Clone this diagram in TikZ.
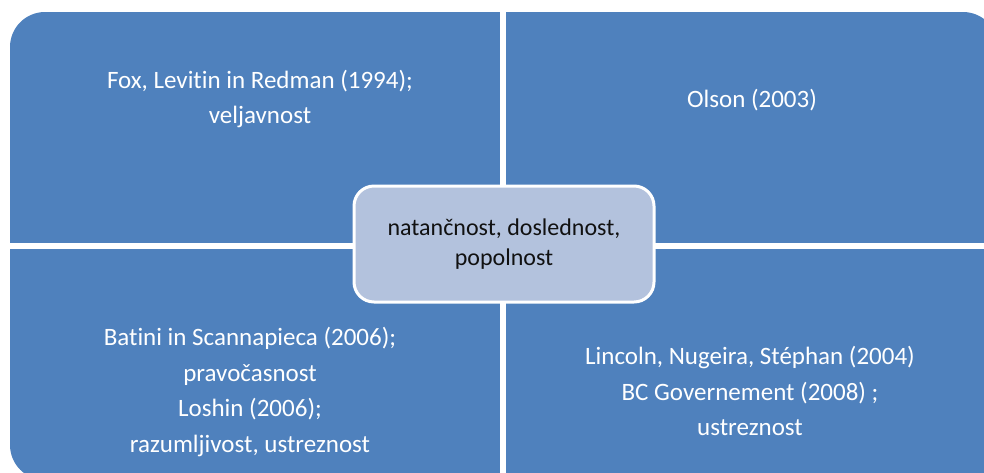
\documentclass[tikz,border=0pt]{standalone}
\usepackage{fontspec}
\setmainfont[Ligatures=NoCommon]{Carlito}
\definecolor{quadblue}{HTML}{4F81BD}
\definecolor{coreblue}{HTML}{B3C2DD}
\definecolor{coreink}{HTML}{111111}

\begin{document}
\begin{tikzpicture}[
  x=1pt,
  y=-1pt,
  every node/.style={font=\fontsize{25}{35.5}\selectfont, align=center},
  quad/.style={fill=quadblue},
  gap/.style={fill=white},
  quadtext/.style={text=white, inner sep=0pt},
  corebox/.style={rectangle, rounded corners=20, fill=coreblue, draw=white,
                  line width=3pt, minimum width=300, minimum height=116,
                  text=coreink, inner sep=0pt,
                  font=\fontsize{24}{30}\selectfont}
]
  \useasboundingbox (0,0) rectangle (984,472);

  % ---- the four quadrants, outer corners rounded ----
  \begin{scope}
    \clip[rounded corners=35] (10,12) rectangle (998,480);
    \fill[quad] (10,12) rectangle (998,480);
    \fill[gap] (500,0) rectangle (506,490);
    \fill[gap] (0,243) rectangle (1000,249);
  \end{scope}

  % ---- quadrant texts ----
  \node[quadtext] (fox) at (260,99)
    {Fox, Levitin in Redman (1994);\\veljavnost};
  \node[quadtext] (olson) at (752,100) {Olson (2003)};
  \node[quadtext] (batini) at (250,392)
    {Batini in Scannapieca (2006);\\pravočasnost\\Loshin (2006);\\razumljivost, ustreznost};
  \node[quadtext] (lincoln) at (750,391)
    {Lincoln, Nugeira, Stéphan (2004)\\BC Governement (2008) ;\\ustreznost};

  % ---- centre ----
  \node[corebox] (core) at (504,244) {natančnost, doslednost,\\popolnost};
\end{tikzpicture}
\end{document}
